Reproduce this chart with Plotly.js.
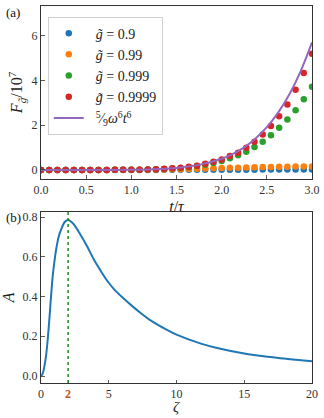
<!DOCTYPE html>
<html>
<head>
<meta charset="utf-8">
<script src="https://cdn.plot.ly/plotly-3.0.1.min.js"></script>
<style>html,body{margin:0;padding:0;background:#fff;}#chart{width:324px;height:418px;}</style>
</head>
<body>
<div id="chart"></div>
<script>
// ---- Panel (a) data ----
const tPoints = [0,0.0909,0.1818,0.2727,0.3636,0.4545,0.5455,0.6364,0.7273,0.8182,0.9091,1.0,1.0909,1.1818,1.2727,1.3636,1.4545,1.5455,1.6364,1.7273,1.8182,1.9091,2.0,2.0909,2.1818,2.2727,2.3636,2.4545,2.5455,2.6364,2.7273,2.8182,2.9091,3.0];
const F_g0_9    = [0,0,0,0,0,0,0,0,0,0,0,0,0,0.001,0.001,0.002,0.002,0.003,0.004,0.005,0.006,0.007,0.008,0.009,0.010,0.011,0.012,0.013,0.014,0.015,0.015,0.016,0.016,0.017];
const F_g0_99   = [0,0,0,0,0,0,0,0,0.001,0.002,0.003,0.005,0.008,0.011,0.015,0.020,0.027,0.035,0.044,0.054,0.064,0.074,0.084,0.093,0.101,0.110,0.118,0.125,0.131,0.137,0.143,0.148,0.153,0.158];
const F_g0_999  = [0,0,0,0,0,0,0,0,0.001,0.002,0.004,0.006,0.010,0.018,0.028,0.040,0.060,0.085,0.12,0.17,0.23,0.31,0.40,0.52,0.65,0.81,1.02,1.26,1.55,1.88,2.25,2.67,3.16,3.72];
const F_g0_9999 = [0,0,0,0,0,0,0,0,0.001,0.002,0.004,0.007,0.012,0.020,0.032,0.050,0.070,0.10,0.14,0.19,0.27,0.36,0.47,0.62,0.77,0.99,1.26,1.58,1.96,2.40,2.93,3.58,4.33,5.19];
const tLine   = [0,0.5,1.0,1.25,1.5,1.75,2.0,2.125,2.25,2.375,2.5,2.625,2.75,2.875,3.0];
const F_line  = [0,0.0001,0.008,0.029,0.089,0.225,0.50,0.72,1.01,1.405,1.91,2.56,3.38,4.42,5.70];
const gValues = ['0.9','0.99','0.999','0.9999'];
const lineName = '\u2002<sup>5</sup>⁄<sub>9</sub><i>ω</i><sup>6</sup><i>t</i><sup>6</sup>';
const xTicksA = [0,0.5,1.0,1.5,2.0,2.5,3.0];
const yTicksA = [0,2,4,6];

// ---- Panel (b) data ----
const zeta = [0,0.12,0.24,0.37,0.49,0.61,0.74,0.86,0.98,1.1,1.3,1.5,1.75,2.0,2.4,2.9,3.4,3.9,4.4,4.9,5.4,6.0,6.8,7.4,8.0,9.3,10,11.8,13,15,16.7,18.2,20];
const A    = [0,0.012,0.045,0.10,0.18,0.28,0.40,0.50,0.57,0.63,0.70,0.74,0.775,0.785,0.765,0.712,0.653,0.586,0.53,0.478,0.436,0.396,0.348,0.315,0.284,0.232,0.208,0.163,0.141,0.113,0.097,0.086,0.074];
const zetaPeak = 2;
const xTickValsB = [0,2,5,10,15,20];
const xTickTextB = ['0','<span style="color:#c4521b"><b>2</b></span>','5','10','15','20'];
const yTicksB = [0,0.2,0.4,0.6,0.8];

const colors = ['#1f77b4','#ff7f0e','#2ca02c','#d62728'];
const FONT = 'Liberation Serif';
const dataSets = [F_g0_9,F_g0_99,F_g0_999,F_g0_9999];

const traces = dataSets.map((ys,i)=>({
  x: tPoints, y: ys, type:'scatter', mode:'markers',
  name: '\u2002<i>g̃</i>\u2005=\u2005' + gValues[i],
  marker:{color:colors[i], size:6.5}, xaxis:'x', yaxis:'y'
}));
traces.push({x:tLine, y:F_line, type:'scatter', mode:'lines', name:lineName,
  line:{color:'#9467bd', width:2, shape:'spline'}, xaxis:'x', yaxis:'y'});
traces.push({x:zeta, y:A, type:'scatter', mode:'lines', showlegend:false,
  line:{color:'#1f77b4', width:2, shape:'spline', smoothing:0.8}, xaxis:'x2', yaxis:'y2'});

const axisCommon = {
  showline:true, mirror:true, linecolor:'#333', linewidth:1,
  ticks:'inside', ticklen:3.5, tickwidth:0.8, tickcolor:'#333',
  showgrid:false, zeroline:false,
  tickfont:{family:FONT, size:12, color:'#333'}
};

const layout = {
  width:324, height:418,
  margin:{l:40.5, r:12.3, t:6, b:34.7},
  paper_bgcolor:'#fff', plot_bgcolor:'#fff',
  font:{family:FONT, color:'#222'},
  showlegend:true,
  legend:{x:0.025, y:0.972, xanchor:'left', yanchor:'top',
    bgcolor:'rgba(255,255,255,0.8)', bordercolor:'#d0d0d0', borderwidth:1,
    font:{family:FONT, size:14, color:'#222'}, tracegroupgap:0, itemwidth:30},
  xaxis: Object.assign({}, axisCommon, {domain:[0,1], anchor:'y', range:[0,3],
    tickvals:xTicksA, tickformat:'.1f',
    title:{text:'<i>t</i>/<i>τ</i>', font:{family:FONT, size:16}, standoff:4}}),
  yaxis: Object.assign({}, axisCommon, {domain:[0.5415,1], anchor:'x', range:[-0.4,7.33],
    tickvals:yTicksA,
    title:{text:'<i>F</i><sub><i>g̃</i></sub>/10<sup>7</sup>', font:{family:FONT, size:16}, standoff:4}}),
  xaxis2: Object.assign({}, axisCommon, {domain:[0,1], anchor:'y2', range:[0,20],
    tickvals:xTickValsB, ticktext:xTickTextB}),
  yaxis2: Object.assign({}, axisCommon, {domain:[0,0.454], anchor:'x2', range:[-0.035,0.826],
    tickvals:yTicksB, tickformat:'.1f',
    title:{text:'<i>A</i>', font:{family:FONT, size:16}, standoff:4}}),
  shapes:[{type:'line', xref:'x2', yref:'y2 domain', x0:zetaPeak, x1:zetaPeak, y0:0, y1:1,
    line:{color:'#1a8a1a', width:1.5, dash:'dot'}}],
  annotations:[
    {text:'(a)', xref:'paper', yref:'paper', x:-0.135, y:0.982, xanchor:'left', yanchor:'middle', showarrow:false, font:{family:FONT, size:13, color:'#111'}},
    {text:'(b)', xref:'paper', yref:'paper', x:-0.135, y:0.438, xanchor:'left', yanchor:'middle', showarrow:false, font:{family:FONT, size:13, color:'#111'}},
    {text:'<i>ζ</i>', xref:'x2 domain', yref:'paper', x:0.5, y:-0.041, xanchor:'center', yanchor:'top', showarrow:false, borderpad:0, font:{family:FONT, size:15, color:'#222'}}
  ]
};

Plotly.newPlot('chart', traces, layout, {displayModeBar:false, staticPlot:true});
</script>
</body>
</html>
